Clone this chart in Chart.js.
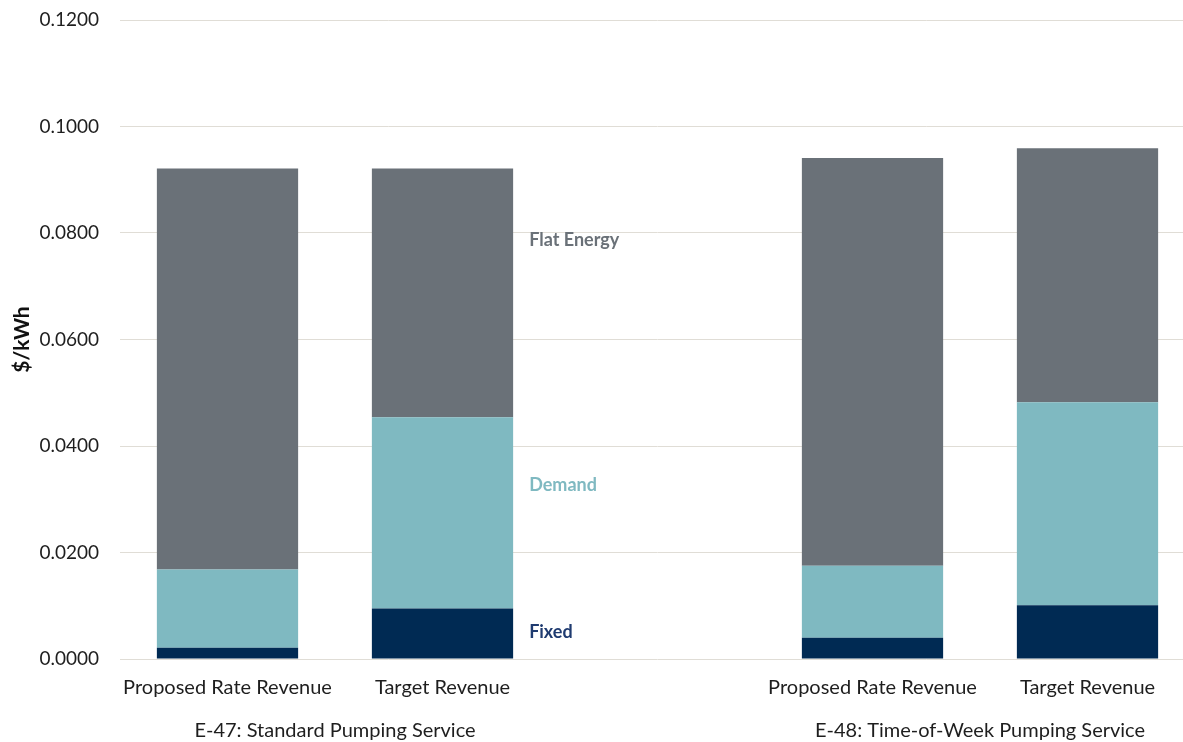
<!DOCTYPE html>
<html>
<head>
<meta charset="utf-8">
<script src="https://cdn.jsdelivr.net/npm/chart.js@4/dist/chart.umd.min.js"></script>
<style>
  html, body { margin: 0; padding: 0; background: #fff; overflow: hidden; }
  #wrap { width: 1195px; height: 742px; position: relative; }
</style>
</head>
<body>
<div id="wrap"><canvas id="rateChart"></canvas></div>
<script>
// categories: blank slot in the middle separates the two services
const categories = ["Proposed Rate Revenue", "Target Revenue", "", "Proposed Rate Revenue", "Target Revenue"];
const groups = ["E-47: Standard Pumping Service", "E-48: Time-of-Week Pumping Service"];
const yTicks = [0, 0.02, 0.04, 0.06, 0.08, 0.10, 0.12];

// $/kWh components
const fixed      = [0.0021, 0.0095, null, 0.0040, 0.0101];
const demand     = [0.0147, 0.0359, null, 0.0135, 0.0381];
const flatEnergy = [0.0753, 0.0467, null, 0.0766, 0.0477];

const FONT = "Lato, 'Open Sans', sans-serif";

// names written beside the second bar, one per segment
const segmentLabels = {
  id: "segmentLabels",
  afterDatasetsDraw(chart, args, opts) {
    const { ctx, scales: { y } } = chart;
    const bar = chart.getDatasetMeta(0).data[1];
    const x = bar.x + bar.width / 2 + 16;
    ctx.save();
    ctx.font = "bold 18px " + FONT;
    ctx.textBaseline = "middle";
    ctx.textAlign = "left";
    chart.data.datasets.forEach((ds, i) => {
      ctx.fillStyle = opts.colors[i];
      ctx.fillText(ds.label, x, y.getPixelForValue(opts.at[i]));
    });
    ctx.restore();
  }
};

// service names under each pair of bars
const groupLabels = {
  id: "groupLabels",
  afterDraw(chart, args, opts) {
    const { ctx, scales: { x } } = chart;
    ctx.save();
    ctx.font = "20px " + FONT;
    ctx.fillStyle = "#1e1e1e";
    ctx.textAlign = "center";
    ctx.textBaseline = "middle";
    [[0, 1], [3, 4]].forEach((pair, i) => {
      const cx = (x.getPixelForValue(pair[0]) + x.getPixelForValue(pair[1])) / 2;
      ctx.fillText(groups[i], cx, opts.y);
    });
    ctx.restore();
  }
};

new Chart(document.getElementById("rateChart"), {
  type: "bar",
  data: {
    labels: categories,
    datasets: [
      { label: "Fixed", data: fixed, backgroundColor: "#002a53" },
      { label: "Demand", data: demand, backgroundColor: "#7fb9c1" },
      { label: "Flat Energy", data: flatEnergy, backgroundColor: "#6a7178" }
    ]
  },
  options: {
    responsive: true,
    maintainAspectRatio: false,
    animation: false,
    events: [],
    layout: { padding: { top: 20, right: 0, bottom: 33, left: 0 } },
    datasets: { bar: { barPercentage: 0.657, categoryPercentage: 1 } },
    scales: {
      x: {
        stacked: true,
        grid: { display: false },
        border: { display: false },
        ticks: { color: "#1e1e1e", font: { family: FONT, size: 20 }, padding: 9, maxRotation: 0, autoSkip: false }
      },
      y: {
        stacked: true,
        min: 0,
        max: 0.12,
        afterBuildTicks: (s) => { s.ticks = yTicks.map(v => ({ value: v })); },
        afterFit: (s) => { s.width = 120; s.paddingTop = 0; s.paddingBottom = 0; },
        grid: { color: "#e0ddd6", lineWidth: 1, drawTicks: false },
        border: { display: false },
        ticks: {
          color: "#1e1e1e",
          font: { family: FONT, size: 19 },
          padding: 21,
          callback: v => v.toFixed(4)
        },
        title: {
          display: true,
          text: "$/kWh",
          color: "#111",
          font: { family: FONT, size: 21, weight: "bold" },
          padding: { top: 10, bottom: 0 }
        }
      }
    },
    plugins: {
      legend: { display: false },
      tooltip: { enabled: false },
      segmentLabels: { at: [0.0050, 0.0326, 0.0787], colors: ["#1f3b70", "#7fb9c1", "#6a7178"] },
      groupLabels: { y: 731 }
    }
  },
  plugins: [segmentLabels, groupLabels]
});
</script>
</body>
</html>
